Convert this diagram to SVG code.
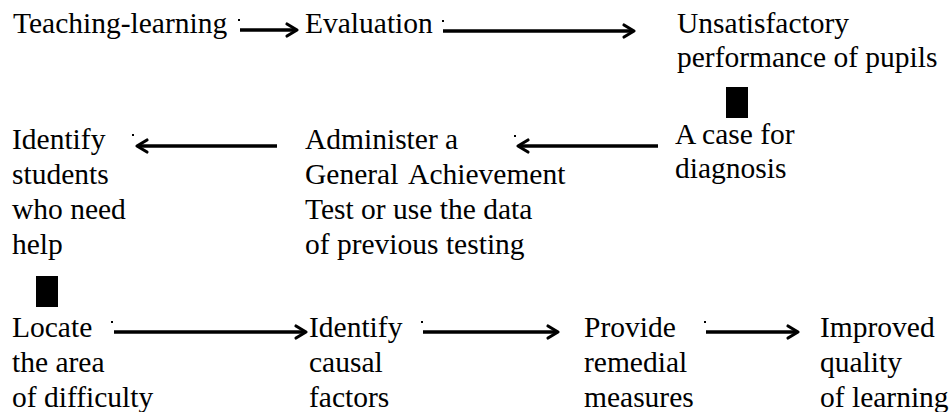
<svg xmlns="http://www.w3.org/2000/svg" width="952" height="412" viewBox="0 0 952 412">
<style>
.t text{font-family:"Liberation Serif","Times New Roman",serif;font-size:29.5px;fill:#000}
.c line{stroke:#000;stroke-width:3.3;fill:none}
.h{stroke:#000;stroke-width:3.2;fill:none;stroke-linecap:round;stroke-linejoin:round}
.d{fill:#000}
.blk{fill:#000}
</style>
<rect width="952" height="412" fill="#fff"/>
<g class="t">
<g id="n1"><text x="13" y="33">Teaching-learning</text></g>
<g id="n2"><text x="305" y="33">Evaluation</text></g>
<g id="n3"><text x="677" y="33">Unsatisfactory</text><text x="677" y="67">performance of pupils</text></g>
<g id="n4"><text x="675" y="144">A case for</text><text x="675" y="178">diagnosis</text></g>
<g id="n5"><text x="305" y="149">Administer a</text><text x="305" y="184" word-spacing="4">General Achievement</text><text x="305" y="219">Test or use the data</text><text x="305" y="254">of previous testing</text></g>
<g id="n6"><text x="12" y="149">Identify</text><text x="12" y="184">students</text><text x="12" y="219">who need</text><text x="12" y="254">help</text></g>
<g id="n7"><text x="12" y="337">Locate</text><text x="12" y="372">the area</text><text x="12" y="407">of difficulty</text></g>
<g id="n8"><text x="309" y="337">Identify</text><text x="309" y="372">causal</text><text x="309" y="407">factors</text></g>
<g id="n9"><text x="584" y="337">Provide</text><text x="584" y="372">remedial</text><text x="584" y="407">measures</text></g>
<g id="n10"><text x="820" y="337">Improved</text><text x="820" y="372">quality</text><text x="820" y="407">of learning</text></g>
</g>
<g id="marks">
<rect class="blk" x="726" y="87" width="22" height="31"/>
<rect class="blk" x="36" y="276" width="22" height="31"/>
</g>
<g id="connectors" class="c">
<line x1="240" y1="30" x2="296" y2="30"/><polyline class="h" points="287,24 297,30 287,36"/>
<rect class="d" x="238" y="19" width="2" height="2"/>
<line x1="443" y1="31" x2="633" y2="31"/><polyline class="h" points="624,25 634,31 624,37"/>
<rect class="d" x="442" y="20" width="2" height="2"/>
<line x1="658" y1="146" x2="519" y2="146"/><polyline class="h" points="528,140 518,146 528,152"/>
<rect class="d" x="514" y="135" width="2" height="2"/>
<line x1="277" y1="146" x2="138" y2="146"/><polyline class="h" points="147,140 137,146 147,152"/>
<rect class="d" x="132" y="134" width="2" height="2"/>
<line x1="114" y1="332" x2="305" y2="332"/><polyline class="h" points="296,326 306,332 296,338"/>
<rect class="d" x="111" y="321" width="2" height="2"/>
<line x1="423" y1="332" x2="557" y2="332"/><polyline class="h" points="548,326 558,332 548,338"/>
<rect class="d" x="421" y="321" width="2" height="2"/>
<line x1="706" y1="332" x2="797" y2="332"/><polyline class="h" points="788,326 798,332 788,338"/>
<rect class="d" x="704" y="321" width="2" height="2"/>
</g>
</svg>
